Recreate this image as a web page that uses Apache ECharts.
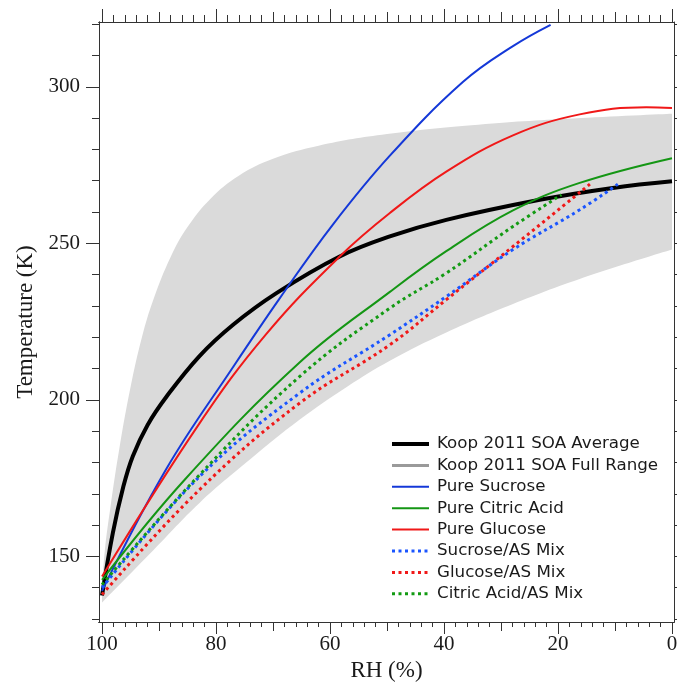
<!DOCTYPE html>
<html><head><meta charset="utf-8">
<script src="https://cdn.jsdelivr.net/npm/echarts@6/dist/echarts.min.js"></script>
<style>html,body{margin:0;padding:0;background:#fff}#c{width:677px;height:684px}</style>
</head><body><div id="c"></div>
<script>
// ---------- data ----------
const rhMajorTicks = [0, 20, 40, 60, 80, 100];
const rhMidTicks = [10, 30, 50, 70, 90];
const rhMinorTicks = [2,4,6,8,12,14,16,18,22,24,26,28,32,34,36,38,42,44,46,48,52,54,56,58,62,64,66,68,72,74,76,78,82,84,86,88,92,94,96,98];
const tMajorTicks = [150, 200, 250, 300];
const tMinorTicks = [130,140,160,170,180,190,210,220,230,240,260,270,280,290,310,320];
const tAllTicks = [130,140,150,160,170,180,190,200,210,220,230,240,250,260,270,280,290,300,310,320];

const koopAvgRH = [100, 98.1, 96.3, 94.6, 92.0, 88.7, 82.9, 77.0, 69.4, 58.3, 49.5, 39.6, 23.2, 10.4, 0];
const koopAvgT  = [137.5, 157.5, 172.0, 182.0, 192.0, 201.0, 214.0, 224.0, 234.1, 245.8, 252.2, 257.5, 263.9, 267.7, 269.8];

const bandUpperRH = [100, 99.5, 98.5, 97, 95, 93, 91, 88, 85, 81, 76, 70, 62, 50, 34, 16, 0];
const bandUpperT  = [140, 152, 166, 184, 204, 220, 232, 245.5, 255.2, 264.2, 271.6, 277.0, 281.2, 284.9, 287.9, 290.0, 291.4];
const bandLowerRH = [100, 91, 82.9, 74, 65.3, 57, 49.5, 39.6, 27.9, 16.2, 0];
const bandLowerT  = [135.3, 152, 167.1, 181, 193.7, 204.2, 212.5, 221.5, 230.6, 238.6, 248.0];

const sucroseRH = [100, 88.7, 77.0, 68.8, 59.5, 49.5, 36.7, 27.9, 21.3];
const sucroseT  = [139.0, 178.0, 210.5, 232.5, 256.0, 278.0, 301.5, 313.0, 319.8];

const citricRH = [100, 85.5, 65.3, 49.5, 39.6, 27.9, 16.2, 0];
const citricT  = [142.5, 174.5, 212.0, 234.5, 247.5, 260.5, 269.3, 277.2];

const glucoseRH = [100, 82.9, 71.2, 58.3, 49.5, 39.6, 27.9, 16.2, 4.5, 0];
const glucoseT  = [143.6, 192.5, 221.0, 245.8, 259.7, 272.9, 284.5, 291.2, 293.5, 293.2];

const sucroseMixRH = [100, 82.9, 65.3, 49.5, 39.6, 27.9, 16.2, 9.5];
const sucroseMixT  = [140.0, 175.5, 202.2, 220.8, 233.0, 248.0, 260.7, 268.9];

const glucoseMixRH = [100, 82.9, 65.3, 49.5, 39.6, 27.9, 14.4];
const glucoseMixT  = [137.8, 171.3, 199.0, 217.6, 232.0, 249.0, 268.9];

const citricMixRH = [100, 83.7, 65.3, 49.5, 39.6, 27.9, 19.4];
const citricMixT  = [141.0, 174.5, 207.5, 229.3, 240.5, 255.4, 265.5];

// ---------- chart ----------
const pair = (xs, ys) => xs.map((x, i) => [x, ys[i]]);
const X_MIN = -0.35, X_MAX = 100.53, Y_MIN = 129.05, Y_MAX = 320.7;
const AX = '#333';
const serif = 'Liberation Serif';
const SMOOTH = 0.4;

function xAx(pos, ticks, len, main) {
  const a = {
    type: 'value', position: pos, inverse: true, min: X_MIN, max: X_MAX, z: 10,
    axisLine: { show: true, onZero: false, lineStyle: { color: AX, width: 1 } },
    axisTick: { show: true, inside: false, length: len, customValues: ticks, lineStyle: { color: AX, width: 1 } },
    axisLabel: { show: false },
    splitLine: { show: false }
  };
  if (main) {
    a.axisLabel = { show: true, customValues: rhMajorTicks, margin: 12, fontFamily: serif, fontSize: 21, color: '#1a1a1a' };
    a.name = 'RH (%)'; a.nameLocation = 'middle'; a.nameGap = 35;
    a.nameTextStyle = { fontFamily: serif, fontSize: 23, color: '#1a1a1a' };
  }
  return a;
}
function yAx(pos, ticks, len, main) {
  const a = {
    type: 'value', position: pos, min: Y_MIN, max: Y_MAX, z: 10,
    axisLine: { show: true, onZero: false, lineStyle: { color: AX, width: 1 } },
    axisTick: { show: true, inside: false, length: len, customValues: ticks, lineStyle: { color: AX, width: 1 } },
    axisLabel: { show: false },
    splitLine: { show: false }
  };
  if (main) {
    a.axisLabel = { show: true, customValues: tMajorTicks, margin: 19, fontFamily: serif, fontSize: 21, color: '#1a1a1a' };
    a.name = 'Temperature (K)'; a.nameLocation = 'middle'; a.nameGap = 61; a.nameRotate = 90;
    a.nameTextStyle = { fontFamily: serif, fontSize: 23, color: '#1a1a1a' };
  }
  return a;
}

function line(name, xs, ys, color, width, type) {
  return {
    name, type: 'line', xAxisIndex: 0, yAxisIndex: 0, data: pair(xs, ys),
    showSymbol: false, symbol: 'none', smooth: SMOOTH,
    lineStyle: { color, width, type: type || 'solid', cap: 'butt' },
    itemStyle: { color }, z: 3
  };
}

const BLACK = '#000000', BLUE = '#1438d8', BLUE_D = '#1a55ff', RED = '#f01818', GREEN = '#149614', GREEN_D = '#129a12', GRAY = '#9a9a9a';
const DOT = [3, 3.5];
const legItem = (name, color, width, type) => ({ name, lineStyle: { color, width, opacity: 1, type: type || 'solid', cap: 'butt' } });

const option = {
  animation: false,
  backgroundColor: '#fff',
  grid: { left: 99, right: 3, top: 22, bottom: 62, containLabel: false, outerBoundsMode: 'none' },
  xAxis: [
    xAx('bottom', rhMajorTicks, 12, true),
    xAx('bottom', rhMidTicks, 9, false),
    xAx('bottom', rhMinorTicks, 5, false),
    xAx('top', rhMajorTicks, 13, false),
    xAx('top', rhMidTicks, 10, false),
    xAx('top', rhMinorTicks, 7, false)
  ],
  yAxis: [
    yAx('left', tMajorTicks, 13, true),
    yAx('left', tMinorTicks, 7, false),
    yAx('right', tAllTicks, 5, false)
  ],
  legend: {
    orient: 'vertical', left: 385, top: 430,
    itemWidth: 37, itemHeight: 14, itemGap: 3.4,
    selectedMode: false,
    itemStyle: { opacity: 0, borderWidth: 0 },
    textStyle: { fontFamily: 'DejaVu Sans', fontSize: 16.7, color: '#1a1a1a', lineHeight: 18, padding: [0, 0, 0, 3] },
    data: [
      legItem('Koop 2011 SOA Average', BLACK, 4),
      legItem('Koop 2011 SOA Full Range', GRAY, 3),
      legItem('Pure Sucrose', BLUE, 2),
      legItem('Pure Citric Acid', GREEN, 2),
      legItem('Pure Glucose', RED, 2),
      legItem('Sucrose/AS Mix', BLUE_D, 3, DOT),
      legItem('Glucose/AS Mix', RED, 3, DOT),
      legItem('Citric Acid/AS Mix', GREEN_D, 3, DOT)
    ]
  },
  series: [
    {
      name: 'Koop 2011 SOA Full Range', type: 'line', xAxisIndex: 0, yAxisIndex: 0,
      data: pair(bandUpperRH, bandUpperT), showSymbol: false, symbol: 'none',
      smooth: SMOOTH,
      lineStyle: { width: 0, opacity: 0, color: '#dadada' }, itemStyle: { color: GRAY },
      areaStyle: { color: '#dadada', opacity: 1, origin: 'start' }, z: 1
    },
    {
      name: 'band lower edge', type: 'line', xAxisIndex: 0, yAxisIndex: 0,
      data: pair(bandLowerRH, bandLowerT), showSymbol: false, symbol: 'none',
      smooth: SMOOTH,
      lineStyle: { width: 0, opacity: 0 },
      areaStyle: { color: '#ffffff', opacity: 1, origin: 'start' }, z: 1
    },
    line('Koop 2011 SOA Average', koopAvgRH, koopAvgT, BLACK, 4),
    line('Pure Sucrose', sucroseRH, sucroseT, BLUE, 2),
    line('Pure Citric Acid', citricRH, citricT, GREEN, 2),
    line('Pure Glucose', glucoseRH, glucoseT, RED, 2),
    line('Sucrose/AS Mix', sucroseMixRH, sucroseMixT, BLUE_D, 3, DOT),
    line('Glucose/AS Mix', glucoseMixRH, glucoseMixT, RED, 3, DOT),
    line('Citric Acid/AS Mix', citricMixRH, citricMixT, GREEN_D, 3, DOT)
  ]
};

const chart = echarts.init(document.getElementById('c'), null, { renderer: 'canvas' });
chart.setOption(option);
</script></body></html>
